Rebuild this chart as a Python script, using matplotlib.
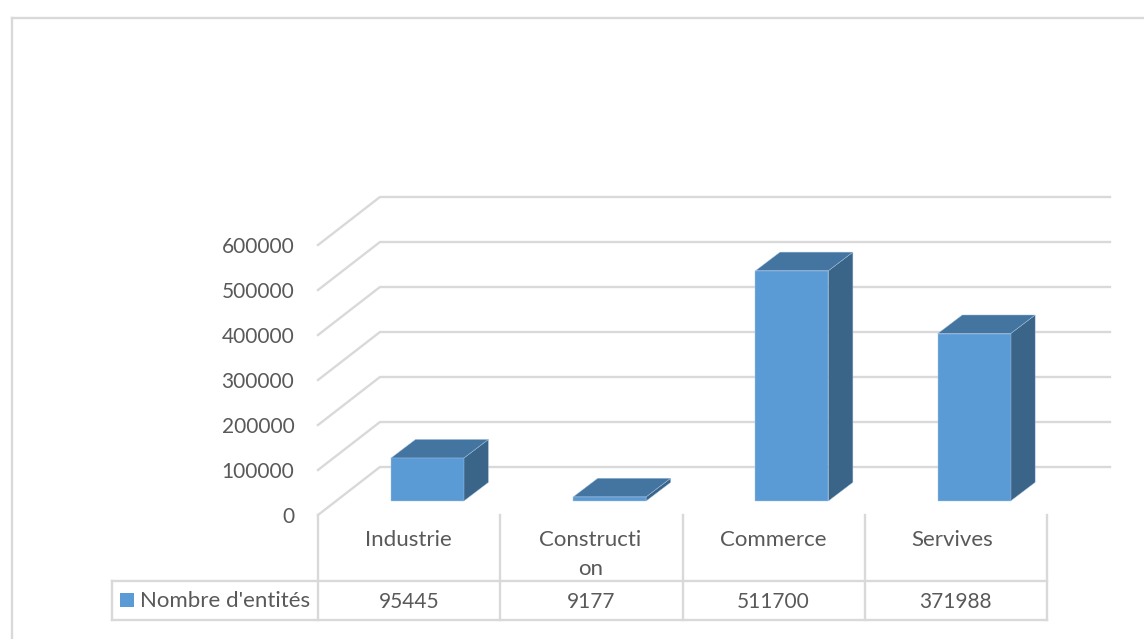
import matplotlib
matplotlib.use('Agg')
import matplotlib.pyplot as plt
from matplotlib.patches import Polygon, Rectangle

categories = ['Industrie', 'Constructi\non', 'Commerce', 'Servives']
table_labels = ['95445', '9177', '511700', '371988']
values = [95445, 9177, 511700, 371988]
y_ticks = [0, 100000, 200000, 300000, 400000, 500000, 600000]
series_name = "Nombre d'entités"

W, H = 1144, 639
GRID = '#d9d9d9'
TEXT = '#595959'
FRONT = '#5b9bd5'
TOP = '#4475a1'
SIDE = '#3a6488'
EDGE = '#a9c6e4'
LW = 1.7

plt.rcParams['font.family'] = ['Lato', 'DejaVu Sans']

fig = plt.figure(figsize=(W / 100, H / 100), dpi=100)

# le cadre du graphique, en pixels (pas de bord à droite)
bg = fig.add_axes([0, 0, 1, 1])
bg.set_xlim(0, W)
bg.set_ylim(H, 0)
bg.axis('off')
bg.plot([12, 12], [H, 18], color=GRID, lw=LW)
bg.plot([12, W], [18, 18], color=GRID, lw=LW)

# axe principal : x en catégories, y en valeurs (plan avant)
x0, x1 = 318, 1047
y0, y1 = 515, 245
cat_w = (x1 - x0) / 4
ax = fig.add_axes([x0 / W, 1 - y0 / H, (x1 - x0) / W, (y0 - y1) / H])
ax.set_xlim(0, 4)
ax.set_ylim(0, 600000)
ax.axis('off')

# profondeur du graphique 3D
depth_x = 0.34
depth_y = 106667
grid_end = (1110 - x0) / cat_w

for v in y_ticks:
    ax.plot([0, depth_x, grid_end], [v, v + depth_y, v + depth_y],
            color=GRID, lw=LW, clip_on=False, zorder=1)
    ax.annotate(str(v), (0, v), xytext=(-17, -1.5), textcoords='offset points',
                ha='right', va='center', fontsize=15, color=TEXT)

# les barres
bar_w = 0.4
bar_dx = 0.135
bar_dy = 41500
off_x = 0.1
off_y = 31000
for i, v in enumerate(values):
    left = i + 0.5 - bar_w / 2 + off_x
    right = left + bar_w
    b = off_y
    t = off_y + v
    ax.add_patch(Polygon([(right, b), (right + bar_dx, b + bar_dy), (right + bar_dx, t + bar_dy), (right, t)],
                         fc=SIDE, ec=EDGE, lw=0.3, clip_on=False, zorder=3))
    ax.add_patch(Polygon([(left, t), (left + bar_dx, t + bar_dy), (right + bar_dx, t + bar_dy), (right, t)],
                         fc=TOP, ec=EDGE, lw=0.3, clip_on=False, zorder=3))
    ax.add_patch(Rectangle((left, b), bar_w, v, fc=FRONT, ec=EDGE, lw=0.3, clip_on=False, zorder=4))

# table de données
row_top = 581
row_bot = 620
for i in range(5):
    bg.plot([x0 + i * cat_w] * 2, [y0, row_bot], color=GRID, lw=LW)
bg.plot([112, 112], [row_top, row_bot], color=GRID, lw=LW)
bg.plot([112, x1], [row_top, row_top], color=GRID, lw=LW)
bg.plot([112, x1], [row_bot, row_bot], color=GRID, lw=LW)

# petits décalages des libellés, en pixels
nudge = [-1, -1, 0, -4]
for i, (c, t) in enumerate(zip(categories, table_labels)):
    cx = x0 + (i + 0.5) * cat_w
    parts = c.split('\n')
    bg.text(cx + nudge[i], 540, parts[0], ha='center', va='center', fontsize=16, color=TEXT)
    if len(parts) > 1:
        bg.text(cx + nudge[i], 569, parts[1], ha='center', va='center', fontsize=16, color=TEXT)
    bg.text(cx, 602, t, ha='center', va='center', fontsize=15, color=TEXT)

bg.add_patch(Rectangle((120, 593), 14, 14, fc=FRONT, ec='none'))
bg.text(140, 601, series_name, ha='left', va='center', fontsize=16, color=TEXT)

plt.savefig('out.png', dpi=100)
